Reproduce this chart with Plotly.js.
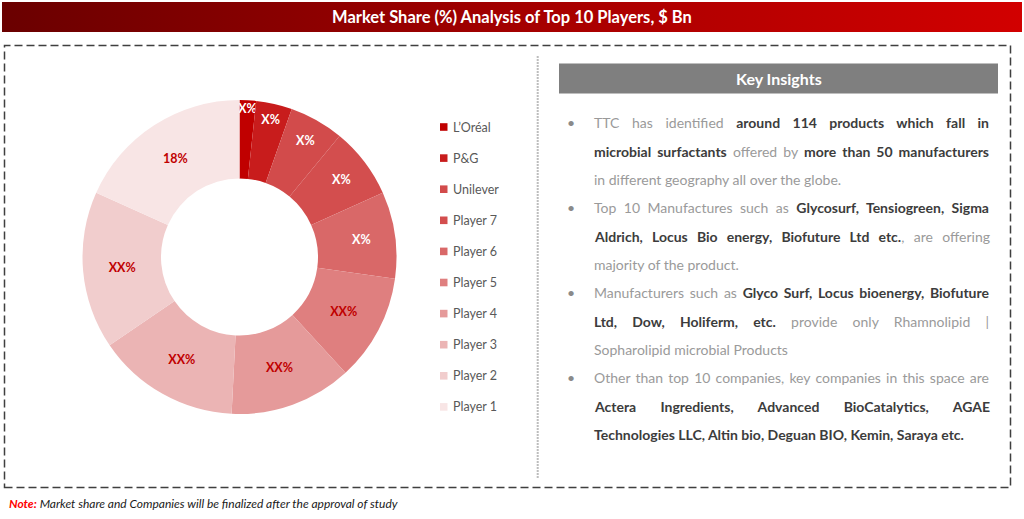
<!DOCTYPE html>
<html>
<head>
<meta charset="utf-8">
<script src="https://cdn.plot.ly/plotly-3.0.1.min.js"></script>
<style>
html,body{margin:0;padding:0;background:#fff;}
#chart{width:1024px;height:519px;}
</style>
</head>
<body>
<div id="chart"></div>
<script>
// ---------- data ----------
const chartTitle = "Market Share (%) Analysis of Top 10 Players, $ Bn";
const players = ["L’Oréal","P&G","Unilever","Player 7","Player 6","Player 5","Player 4","Player 3","Player 2","Player 1"];
const shares = [1.7, 3.7, 5.6, 7.3, 8.9, 11.0, 12.6, 14.7, 16.2, 18.3];
const sliceLabels = ["X%","X%","X%","X%","X%","XX%","XX%","XX%","XX%","18%"];
const sliceColors = ["#c00000","#c81c1c","#d24b4b","#d34e4e","#d96868","#df7f7f","#e59a9a","#ebb4b4","#f1cdcd","#f8e5e5"];
const labelColors = ["#ffffff","#ffffff","#ffffff","#ffffff","#ffffff","#c00000","#c00000","#c00000","#c00000","#c00000"];
const insightsTitle = "Key Insights";
const insightBullets = [
  ["TTC has identified <b>around 114 products which fall in</b>",
   "<b>microbial surfactants</b> offered by <b>more than 50 manufacturers</b>",
   "in different geography all over the globe."],
  ["Top 10 Manufactures such as <b>Glycosurf, Tensiogreen, Sigma</b>",
   "<b>Aldrich, Locus Bio energy, Biofuture Ltd etc.</b>, are offering",
   "majority of the product."],
  ["Manufacturers such as <b>Glyco Surf, Locus bioenergy, Biofuture</b>",
   "<b>Ltd, Dow, Holiferm, etc.</b> provide only Rhamnolipid |",
   "Sopharolipid microbial Products"],
  ["Other than top 10 companies, key companies in this space are",
   "<b>Actera Ingredients, Advanced BioCatalytics, AGAE</b>",
   "<b>Technologies LLC, Altin bio, Deguan BIO, Kemin, Saraya etc.</b>"]
];
const noteLabel = "Note:";
const noteText = "Market share and Companies will be finalized after the approval of study";

// ---------- helpers ----------
const W = 1024, H = 519;
const px = x => x / W;
const py = y => 1 - y / H;
const FONT = "Lato, 'Open Sans', sans-serif";
const TEXT_LEFT = 593, TEXT_RIGHT = 988;

const gradSvg = '<svg xmlns="http://www.w3.org/2000/svg" width="100" height="10" preserveAspectRatio="none">' +
  '<defs><linearGradient id="g" x1="0" y1="0" x2="1" y2="0">' +
  '<stop offset="0" stop-color="#6a0000"/><stop offset="0.5" stop-color="#a30000"/><stop offset="1" stop-color="#d20000"/>' +
  '</linearGradient></defs><rect width="100" height="10" fill="url(#g)"/></svg>';
const gradUri = "data:image/svg+xml;base64," + btoa(gradSvg);

const shapes = [];
const annotations = [];
const justifyIdx = [];

// dashed outer box
shapes.push({type:"rect", xref:"paper", yref:"paper", x0:px(4.5), x1:px(1010.5), y0:py(487.5), y1:py(45.5),
  line:{color:"#3f3f3f", width:1.5, dash:"8px,4px"}, fillcolor:"rgba(0,0,0,0)"});
// dotted separator
shapes.push({type:"line", xref:"paper", yref:"paper", x0:px(537.7), x1:px(537.7), y0:py(478), y1:py(55),
  line:{color:"#bdbdbd", width:2, dash:"2px,1px"}});
// key insights header
shapes.push({type:"rect", xref:"paper", yref:"paper", x0:px(559), x1:px(998), y0:py(93.5), y1:py(63.5),
  line:{color:"#7f7f7f", width:0}, fillcolor:"#7f7f7f"});
annotations.push({xref:"paper", yref:"paper", x:px(778.5), y:py(78.5), xanchor:"center", yanchor:"middle",
  text:"<b>"+insightsTitle+"</b>", showarrow:false, font:{family:FONT, size:16, color:"#ffffff"}});

// title
annotations.push({xref:"paper", yref:"paper", x:px(512), y:py(17), xanchor:"center", yanchor:"middle",
  text:"<b>"+chartTitle+"</b>", showarrow:false, font:{family:FONT, size:16.5, color:"#ffffff"}});

// legend (built from the players / colours arrays)
players.forEach((p, i) => {
  const yc = 127 + i * 31.1;
  shapes.push({type:"rect", xref:"paper", yref:"paper", x0:px(440), x1:px(447.5), y0:py(yc+3.8), y1:py(yc-3.8),
    line:{width:0}, fillcolor:sliceColors[i]});
  annotations.push({xref:"paper", yref:"paper", x:px(451), y:py(yc), xanchor:"left", yanchor:"middle",
    text:p, showarrow:false, font:{family:FONT, size:12.5, color:"#595959"}});
});

// insights text
let lineIdx = 0;
insightBullets.forEach(lines => {
  lines.forEach((ln, j) => {
    const yc = 123 + lineIdx * 28.3;
    if (j === 0) {
      annotations.push({xref:"paper", yref:"paper", x:px(571), y:py(yc), xanchor:"center", yanchor:"middle",
        text:"•", showarrow:false, font:{family:FONT, size:14, color:"#8a8a8a"}});
    }
    const styled = ln.replace(/<b>/g, "<b><span style='color:#3c3c3c'>").replace(/<\/b>/g, "</span></b>");
    if (j < lines.length - 1) justifyIdx.push(annotations.length);
    annotations.push({xref:"paper", yref:"paper", x:px(TEXT_LEFT - 1), y:py(yc), xanchor:"left", yanchor:"middle",
      align:"left", text:styled, showarrow:false, font:{family:FONT, size:14, color:"#9a9a9a"}});
    lineIdx++;
  });
});

// note
annotations.push({xref:"paper", yref:"paper", x:px(7), y:py(503), xanchor:"left", yanchor:"middle",
  text:"<b><i><span style='color:#ff0000'>"+noteLabel+"</span></i></b><i> "+noteText+"</i>",
  showarrow:false, font:{family:FONT, size:12, color:"#1a1a1a"}});

const cx = 239.5, cy = 257, R = 157;
const trace = {
  type:"pie",
  labels:players,
  values:shares,
  text:sliceLabels,
  textinfo:"text",
  textposition:"inside",
  insidetextorientation:"horizontal",
  textfont:{family:FONT, size:12.5, color:labelColors, weight:"bold"},
  hole:0.5,
  sort:false,
  direction:"clockwise",
  rotation:0,
  marker:{colors:sliceColors, line:{width:0}},
  showlegend:false,
  hoverinfo:"label+value",
  domain:{x:[px(cx-R), px(cx+R)], y:[py(cy+R), py(cy-R)]}
};

const layout = {
  width:W, height:H,
  margin:{l:0, r:0, t:0, b:0},
  paper_bgcolor:"#ffffff",
  plot_bgcolor:"#ffffff",
  showlegend:false,
  uniformtext:{mode:"show", minsize:12.5},
  images:[{source:gradUri, xref:"paper", yref:"paper", x:px(2), y:py(2), sizex:px(1020), sizey:30/H,
    xanchor:"left", yanchor:"top", sizing:"stretch", layer:"below"}],
  shapes:shapes,
  annotations:annotations
};

const gd = document.getElementById("chart");
Plotly.newPlot(gd, [trace], layout, {displayModeBar:false, staticPlot:true}).then(() => {
  // justify the wrapped insight lines like the original text block
  const annEls = gd.querySelectorAll(".annotation");
  justifyIdx.forEach(idx => {
    const g = annEls[idx];
    if (!g) return;
    const t = g.querySelector("text");
    if (!t) return;
    const w = t.getComputedTextLength();
    const spaces = (t.textContent.match(/ /g) || []).length;
    if (!spaces) return;
    const extra = (TEXT_RIGHT - TEXT_LEFT - w) / spaces;
    if (extra > 0) t.style.wordSpacing = extra.toFixed(2) + "px";
  });
});
</script>
</body>
</html>
